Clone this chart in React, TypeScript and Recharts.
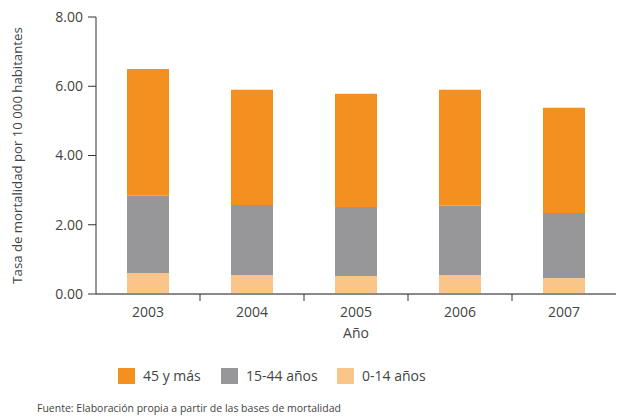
import React from 'react';
import { BarChart, Bar, XAxis, YAxis, Label } from 'recharts';

// valores (tasa por 10 000 habitantes)
const years = ['2003', '2004', '2005', '2006', '2007'];
const age0to14 = [0.61, 0.55, 0.52, 0.55, 0.46];
const age15to44 = [2.23, 2.02, 1.99, 2.0, 1.88];
const age45plus = [3.66, 3.33, 3.27, 3.35, 3.04];
const yTicks = [0, 2, 4, 6, 8];

const COLORS = { old: '#F39020', mid: '#97979A', young: '#F9C589' };
const FONT = '"Open Sans", "Noto Sans", sans-serif';

const data = years.map((year, i) => ({
  year,
  young: age0to14[i],
  mid: age15to44[i],
  old: age45plus[i],
}));

const legendItems = [
  { label: '45 y más', color: COLORS.old, width: 103 },
  { label: '15-44 años', color: COLORS.mid, width: 116 },
  { label: '0-14 años', color: COLORS.young, width: 100 },
];

const YearTick = (props: any) => {
  const { x, y, payload, index } = props;
  const half = payload?.offset || 52;
  return (
    <g>
      {index > 0 && (
        <line x1={x - half} x2={x - half} y1={y - 8} y2={y - 1} stroke="#333" strokeWidth={1} />
      )}
      <text x={x} y={y + 15} textAnchor="middle" fill="#444" fontSize={14} fontFamily={FONT}>
        {payload.value}
      </text>
    </g>
  );
};

const LegendBox = () => (
  <div
    style={{
      position: 'absolute',
      left: 118,
      top: 366,
      display: 'flex',
      alignItems: 'center',
      fontFamily: FONT,
      fontSize: 14,
      color: '#444',
    }}
  >
    {legendItems.map((item) => (
      <div key={item.label} style={{ display: 'flex', alignItems: 'center', width: item.width }}>
        <span style={{ width: 17, height: 16, background: item.color, display: 'inline-block', marginRight: 8 }} />
        <span>{item.label}</span>
      </div>
    ))}
  </div>
);

const App: React.FC = () => {
  return (
    <div style={{ position: 'absolute', left: 0, top: 0, width: 621, height: 419, background: '#fff' }}>
      <BarChart
        width={621}
        height={419}
        data={data}
        margin={{ top: 17, right: 5, bottom: 81, left: 0 }}
        barCategoryGap={0}
      >
        <XAxis
          dataKey="year"
          tick={<YearTick />}
          tickLine={false}
          axisLine={{ stroke: '#8a8a8a', strokeWidth: 2 }}
          interval={0}
          height={44}
        >
          <Label value="Año" position="insideBottom" offset={0} fill="#444" fontSize={14} fontFamily={FONT} />
        </XAxis>
        <YAxis
          width={96}
          domain={[0, 8]}
          ticks={yTicks}
          interval={0}
          tickFormatter={(v: number) => v.toFixed(2)}
          tick={{ fill: '#444', fontSize: 14, fontFamily: FONT }}
          tickSize={8}
          tickMargin={5}
          axisLine={{ stroke: '#333' }}
          tickLine={{ stroke: '#333' }}
        >
          <Label
            content={({ viewBox }: any) => {
              const cy = viewBox.y + viewBox.height / 2;
              return (
                <text
                  x={22}
                  y={cy}
                  transform={`rotate(-90, 22, ${cy})`}
                  textAnchor="middle"
                  fill="#444"
                  fontSize={13.2}
                  fontFamily={FONT}
                >
                  Tasa de mortalidad por 10 000 habitantes
                </text>
              );
            }}
          />
        </YAxis>
        <Bar dataKey="young" stackId="a" fill={COLORS.young} barSize={42} isAnimationActive={false} />
        <Bar dataKey="mid" stackId="a" fill={COLORS.mid} barSize={42} isAnimationActive={false} />
        <Bar dataKey="old" stackId="a" fill={COLORS.old} barSize={42} isAnimationActive={false} />
      </BarChart>
      <LegendBox />
      <div
        style={{
          position: 'absolute',
          left: 37,
          top: 401,
          fontFamily: FONT,
          fontSize: 10.5,
          color: '#444',
          whiteSpace: 'nowrap',
        }}
      >
        Fuente: Elaboración propia a partir de las bases de mortalidad
      </div>
    </div>
  );
};

export default App;
